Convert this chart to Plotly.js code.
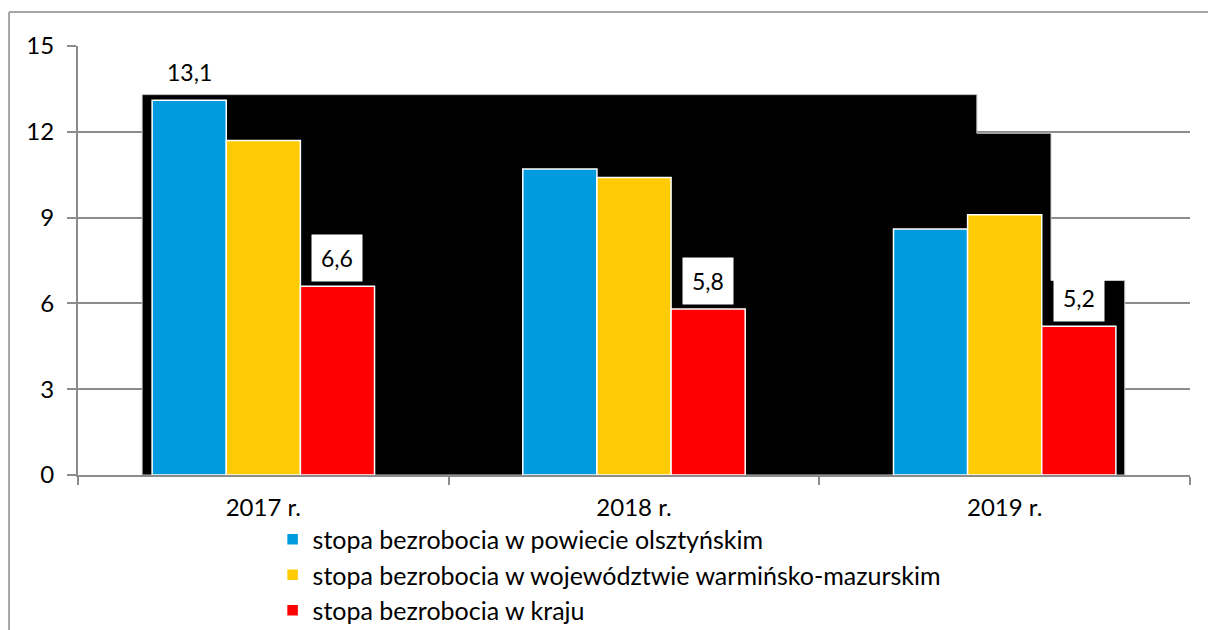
<!DOCTYPE html>
<html>
<head>
<meta charset="utf-8">
<script src="https://cdn.plot.ly/plotly-3.0.1.min.js"></script>
<style>html,body{margin:0;padding:0;background:#fff;}#chart{width:1208px;height:630px;}</style>
</head>
<body>
<div id="chart"></div>
<script>
// ---- data ----
var categories = ["2017 r.", "2018 r.", "2019 r."];
var seriesNames = [
  "stopa bezrobocia w powiecie olsztyńskim",
  "stopa bezrobocia w województwie warmińsko-mazurskim",
  "stopa bezrobocia w kraju"
];
var powiat = [13.1, 10.7, 8.6];
var wojewodztwo = [11.7, 10.4, 9.1];
var kraj = [6.6, 5.8, 5.2];
// which values carry a data label (per series)
var labelPowiat = [true, false, false];
var labelWoj = [false, false, false];
var labelKraj = [true, true, true];
// black stepped backdrop seen behind the bars (category units / value units)
var shadowEdges = [-0.327, 1.925, 2.125, 2.324];
var shadowLevels = [13.3, 11.95, 6.8];

var colors = ["#009ADE", "#FFCB05", "#FF0000"];
var labelBg = ["rgba(0,0,0,0)", "#ffffff", "#ffffff"];
var FONT = "Lato, 'Open Sans', sans-serif";
var xpos = categories.map(function (c, i) { return i; });

var allSeries = [powiat, wojewodztwo, kraj];
var allLabels = [labelPowiat, labelWoj, labelKraj];
var traces = allSeries.map(function (vals, k) {
  return {
    type: "bar",
    name: seriesNames[k],
    x: xpos,
    y: vals,
    marker: { color: colors[k], line: { color: "#ffffff", width: 1.5 } },
    hoverinfo: "none"
  };
});

// shadow path built from arrays
var p = "M" + shadowEdges[0] + ",0";
for (var i = 0; i < shadowLevels.length; i++) {
  p += " L" + shadowEdges[i] + "," + shadowLevels[i] + " L" + shadowEdges[i + 1] + "," + shadowLevels[i];
}
p += " L" + shadowEdges[shadowEdges.length - 1] + ",0 Z";

var shapes = [
  { type: "path", xref: "x", yref: "y", path: p, fillcolor: "#000000", line: { color: "#c8c8c8", width: 1 }, layer: "between" },
  // outer chart frame
  { type: "line", xref: "paper", yref: "paper", x0: -0.062, x1: 1.2, y0: 1.079, y1: 1.079, line: { color: "#a6a6a6", width: 2 } },
  { type: "line", xref: "paper", yref: "paper", x0: -0.062, x1: -0.062, y0: 1.079, y1: -0.4, line: { color: "#a6a6a6", width: 2 } }
];

var groupWidth = 0.6, nS = allSeries.length;
var annotations = [];
allSeries.forEach(function (vals, k) {
  vals.forEach(function (v, i) {
    if (!allLabels[k][i]) return;
    var xc = xpos[i] - groupWidth / 2 + groupWidth / nS * (k + 0.5);
    annotations.push({
      x: xc, y: v, xref: "x", yref: "y",
      text: String(v.toFixed(1)).replace(".", ","),
      showarrow: false, yanchor: "bottom", yshift: 4,
      bgcolor: labelBg[k], borderpad: 9,
      font: { family: FONT, size: 23, color: "#000000" }
    });
  });
});

var layout = {
  width: 1208, height: 630,
  margin: { l: 78, r: 18, t: 46, b: 155 },
  paper_bgcolor: "#ffffff", plot_bgcolor: "#ffffff",
  font: { family: FONT, size: 24, color: "#000000" },
  barmode: "group", bargap: 0.4, bargroupgap: 0,
  showlegend: true,
  legend: {
    orientation: "v", xref: "paper", yref: "container",
    x: 0.175, xanchor: "left", y: 0.18, yanchor: "top",
    font: { family: FONT, size: 25, color: "#000000" }, tracegroupgap: 0,
    bgcolor: "rgba(0,0,0,0)"
  },
  xaxis: {
    type: "linear", range: [-0.5, 2.5],
    tickmode: "array", tickvals: xpos, ticktext: categories,
    ticks: "", showgrid: false, zeroline: false,
    showline: true, linecolor: "#8c8c8c", linewidth: 2,
    ticklabelstandoff: 10,
    tickfont: { family: FONT, size: 24, color: "#000000" },
    minor: { tickmode: "linear", tick0: -0.5, dtick: 1, ticks: "outside", ticklen: 8, tickwidth: 2, tickcolor: "#8c8c8c", showgrid: false },
    fixedrange: true
  },
  yaxis: {
    range: [0, 15], tickmode: "array", tickvals: [0, 3, 6, 9, 12, 15],
    ticks: "outside", ticklen: 9, tickwidth: 2, tickcolor: "#8c8c8c",
    showgrid: true, gridcolor: "#8c8c8c", gridwidth: 2,
    zeroline: false, showline: true, linecolor: "#8c8c8c", linewidth: 2,
    tickfont: { family: FONT, size: 24, color: "#000000" },
    ticklabelstandoff: 8, fixedrange: true
  },
  shapes: shapes,
  annotations: annotations
};

Plotly.newPlot("chart", traces, layout, { displayModeBar: false, staticPlot: true });
</script>
</body>
</html>
